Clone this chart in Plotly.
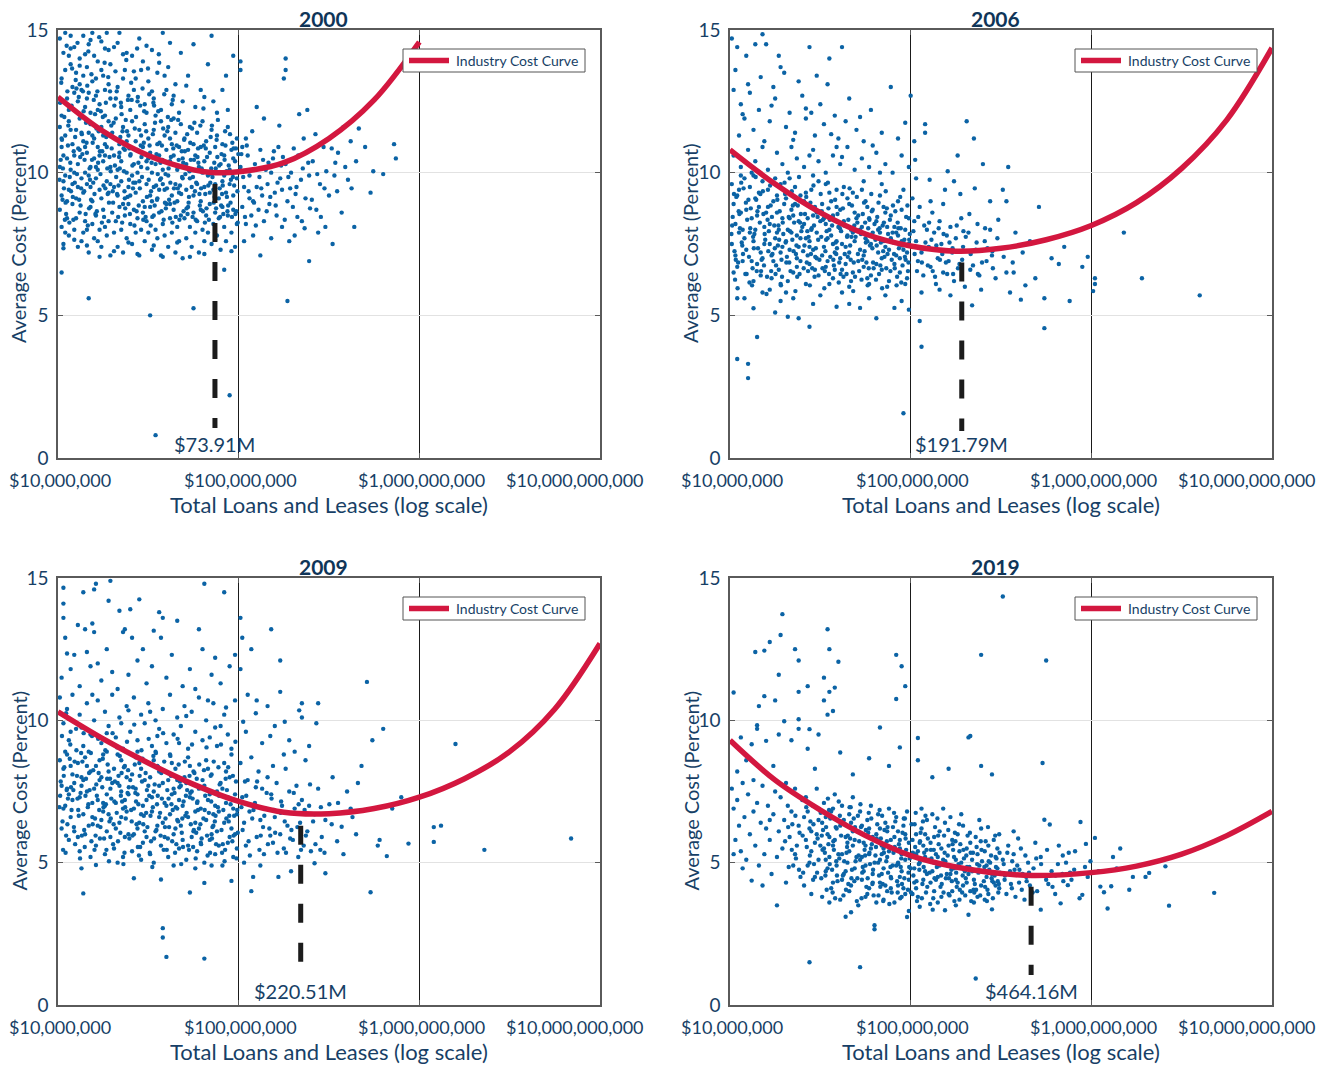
import math
import plotly.graph_objects as go

# ---------------- data ----------------
YEARS = ["2000", "2006", "2009", "2019"]
MIN_SIZE = [73.91e6, 191.79e6, 220.51e6, 464.16e6]
MIN_LABELS = ["$73.91M", "$191.79M", "$220.51M", "$464.16M"]
MIN_COST = [10.0, 7.25, 6.7, 4.55]
DASH_BOTTOM = [1.05, 0.95, 1.05, 1.05]
LEGEND_TEXT = "Industry Cost Curve"

X_TICKS = [1e7, 1e8, 1e9, 1e10]
X_TICKTEXT = ["$10,000,000", "$100,000,000", "$1,000,000,000", "$10,000,000,000"]
Y_TICKS = [0, 5, 10, 15]

# industry cost curves: log10(total loans) and average cost (%)
CURVE_2000_LX = [7.0, 7.25, 7.5, 7.75, 7.87, 8.0, 8.25, 8.5, 8.75, 9.0]
CURVE_2000_Y = [12.65, 11.45, 10.6, 10.1, 10.0, 10.03, 10.35, 11.2, 12.55, 14.58]
CURVE_2006_LX = [7.0, 7.25, 7.5, 7.75, 8.0, 8.25, 8.5, 8.75, 9.0, 9.25, 9.5, 9.75, 10.0]
CURVE_2006_Y = [10.8, 9.6, 8.6, 7.85, 7.43, 7.25, 7.35, 7.65, 8.15, 8.95, 10.15, 11.85, 14.37]
CURVE_2009_LX = [7.0, 7.25, 7.5, 7.75, 8.0, 8.25, 8.5, 8.75, 9.0, 9.25, 9.5, 9.75, 10.0]
CURVE_2009_Y = [10.3, 9.35, 8.5, 7.75, 7.15, 6.77, 6.72, 6.9, 7.3, 7.95, 8.9, 10.4, 12.7]
CURVE_2019_LX = [7.0, 7.25, 7.5, 7.75, 8.0, 8.25, 8.5, 8.67, 9.0, 9.25, 9.5, 9.75, 10.0]
CURVE_2019_Y = [9.3, 7.9, 6.85, 5.95, 5.25, 4.85, 4.62, 4.55, 4.65, 4.88, 5.3, 5.95, 6.8]

# banks: (log10 total loans and leases, average cost %)
BANKS_2000 = [
(7.01,14.7),(7.03,14.2),(7.02,13.3),(7.05,12.6),(7.04,14.9),(7.07,13.8),(7.06,12.2),(7.09,14.4),(7.08,13.0),(7.11,12.5),
(7.12,14.0),(7.10,13.5),(7.14,14.8),(7.13,12.9),(7.16,13.7),(7.15,12.3),(7.17,14.5),(7.19,13.2),(7.18,12.1),(7.20,14.1),
(7.21,12.7),(7.22,13.9),(7.24,14.6),(7.23,12.4),(7.25,13.4),(7.26,12.0),(7.27,14.9),(7.28,13.1),(7.29,12.6),(7.02,12.0),
(7.06,14.1),(7.12,13.1),(7.19,14.9),(7.24,13.6),(7.28,14.3),(7.04,13.6),(7.09,12.8),(7.16,12.6),(7.21,13.3),(7.26,12.9),
(7.14,13.4),(7.22,12.2),(7.29,13.8),(7.07,14.8),(7.17,12.8),
(7.31,14.4),(7.33,13.0),(7.35,12.3),(7.34,14.9),(7.37,13.6),(7.39,12.7),(7.41,14.1),(7.40,12.2),(7.43,13.3),(7.45,14.7),
(7.44,12.5),(7.47,13.9),(7.49,12.1),(7.50,13.2),(7.52,14.3),(7.53,12.6),(7.55,13.5),(7.57,12.2),(7.58,14.9),(7.60,12.9),
(7.61,13.7),(7.63,12.4),(7.65,13.1),(7.67,12.1),(7.68,14.2),(7.32,12.6),(7.36,13.3),(7.42,12.9),(7.48,12.4),(7.54,12.0),
(7.59,13.4),(7.64,12.7),(7.38,14.2),(7.46,13.6),(7.69,12.5),
(7.72,13.4),(7.75,14.5),(7.76,12.3),(7.79,12.9),(7.83,13.8),(7.86,12.5),(7.88,12.1),(7.91,12.9),(7.94,12.2),(7.97,14.1),
(7.85,14.8),(7.93,13.4),
(7.01,11.6),(7.02,10.9),(7.01,10.2),(7.03,9.7),(7.02,9.2),(7.04,11.3),(7.05,10.5),(7.04,9.9),(7.06,11.8),(7.07,10.1),
(7.06,9.4),(7.08,11.0),(7.09,10.6),(7.08,9.6),(7.10,11.5),(7.11,10.3),(7.10,9.1),(7.12,10.8),(7.13,9.8),(7.12,11.9),
(7.14,11.1),(7.15,10.0),(7.14,9.3),(7.16,10.7),(7.17,11.4),(7.16,9.6),(7.18,10.2),(7.19,9.0),(7.18,11.7),(7.20,10.5),
(7.21,9.8),(7.20,11.2),(7.22,10.9),(7.23,9.4),(7.22,10.1),(7.24,11.6),(7.25,10.4),(7.24,9.1),(7.26,11.0),(7.27,9.7),
(7.26,10.6),(7.28,11.8),(7.29,10.2),(7.28,9.3),(7.03,10.6),(7.07,11.5),(7.11,9.5),(7.15,10.9),(7.19,11.3),(7.23,10.6),
(7.27,10.9),(7.05,9.0),(7.13,11.4),(7.21,10.2),(7.29,9.6),(7.09,10.0),(7.17,9.9),(7.25,11.3),(7.02,11.2),(7.18,9.5),
(7.30,11.4),(7.31,10.6),(7.31,9.5),(7.32,11.9),(7.33,10.1),(7.33,9.2),(7.34,11.0),(7.35,10.4),(7.35,9.7),(7.36,11.6),
(7.37,10.8),(7.37,9.1),(7.38,10.0),(7.39,11.3),(7.39,9.5),(7.40,10.6),(7.41,11.8),(7.41,9.9),(7.42,10.3),(7.43,11.1),
(7.43,9.3),(7.44,10.8),(7.45,9.7),(7.45,11.5),(7.46,10.2),(7.47,9.0),(7.47,10.9),(7.48,11.7),(7.49,9.6),(7.49,10.4),
(7.50,11.2),(7.51,9.2),(7.51,10.7),(7.52,10.0),(7.53,11.5),(7.53,9.5),(7.54,10.3),(7.55,11.0),(7.55,9.1),(7.56,10.6),
(7.57,11.8),(7.57,9.8),(7.58,10.1),(7.59,11.3),(7.59,9.4),(7.60,10.8),(7.61,9.9),(7.61,11.6),(7.62,10.4),(7.63,9.2),
(7.63,11.0),(7.64,10.6),(7.65,9.6),(7.65,11.4),(7.66,10.1),(7.67,9.3),(7.67,10.9),(7.68,11.7),(7.69,9.8),(7.69,10.5),
(7.34,10.7),(7.40,9.2),(7.46,11.3),(7.52,9.0),(7.58,9.6),(7.64,11.9),(7.38,11.1),(7.44,10.0),(7.50,10.5),(7.56,9.4),
(7.62,11.2),(7.66,9.0),
(7.70,11.2),(7.71,10.3),(7.71,9.4),(7.72,10.8),(7.73,11.6),(7.73,9.8),(7.74,10.1),(7.75,11.0),(7.75,9.2),(7.76,10.6),
(7.77,11.4),(7.77,9.6),(7.78,10.2),(7.79,9.0),(7.79,10.9),(7.80,11.8),(7.81,9.5),(7.81,10.4),(7.82,11.1),(7.83,9.9),
(7.84,10.7),(7.84,9.3),(7.85,11.5),(7.86,10.0),(7.87,9.6),(7.87,10.9),(7.88,11.3),(7.89,9.1),(7.90,10.3),(7.91,9.7),
(7.91,11.0),(7.92,10.6),(7.93,9.3),(7.94,11.6),(7.95,10.1),(7.95,9.6),(7.96,10.8),(7.97,9.2),(7.98,10.4),(7.99,9.8),
(7.99,11.2),(7.74,9.5),(7.80,10.0),(7.86,9.4),(7.92,9.9),(7.97,10.5),
(7.01,8.7),(7.02,8.1),(7.03,7.5),(7.02,6.5),(7.05,8.4),(7.06,7.8),(7.08,8.9),(7.09,8.0),(7.11,7.4),(7.12,8.6),
(7.14,7.9),(7.15,8.3),(7.17,7.2),(7.18,8.8),(7.17,5.6),(7.20,7.7),(7.21,8.5),(7.23,8.0),(7.24,7.4),(7.25,8.7),
(7.27,7.8),(7.28,8.3),(7.29,7.1),(7.04,7.9),(7.10,8.4),(7.16,8.0),(7.22,7.6),(7.26,8.1),(7.13,7.6),(7.19,8.2),
(7.30,8.6),(7.31,7.9),(7.32,8.3),(7.33,7.4),(7.34,8.8),(7.35,8.0),(7.36,7.2),(7.37,8.5),(7.38,7.7),(7.39,8.9),
(7.40,8.2),(7.41,7.5),(7.42,8.7),(7.43,7.9),(7.44,8.4),(7.45,7.1),(7.46,8.0),(7.47,8.6),(7.48,7.6),(7.49,8.3),
(7.50,7.9),(7.51,8.8),(7.52,7.3),(7.53,8.5),(7.54,8.0),(7.55,7.7),(7.56,8.6),(7.57,7.1),(7.58,8.2),(7.59,7.8),
(7.60,8.9),(7.61,7.4),(7.62,8.4),(7.63,7.9),(7.64,8.7),(7.65,7.2),(7.66,8.1),(7.67,7.6),(7.68,8.5),(7.69,7.0),
(7.51,5.0),(7.54,0.8),(7.36,8.9),(7.48,8.8),(7.62,8.9),
(7.70,8.4),(7.71,7.7),(7.72,8.8),(7.73,8.1),(7.74,7.4),(7.75,8.6),(7.76,7.9),(7.77,8.3),(7.78,7.2),(7.79,8.7),
(7.80,8.0),(7.81,7.6),(7.82,8.5),(7.83,7.9),(7.84,8.9),(7.85,7.5),(7.86,8.2),(7.87,8.6),(7.88,7.8),(7.89,8.4),
(7.90,7.3),(7.91,8.8),(7.92,8.1),(7.93,7.6),(7.94,8.5),(7.96,7.9),(7.97,8.7),(7.98,7.4),(7.99,8.2),(7.75,5.25),
(7.92,6.6),(7.95,2.2),
(8.01,13.9),(8.01,13.6),(8.02,10.9),(8.01,10.2),(8.03,9.5),(8.02,8.8),(8.04,8.2),(8.03,7.6),(8.05,10.6),(8.06,9.9),
(8.06,9.1),(8.07,8.5),(8.08,7.8),(8.09,10.3),(8.10,12.3),(8.10,9.5),(8.11,8.7),(8.12,7.1),(8.12,10.8),(8.13,9.2),
(8.14,11.9),(8.14,8.3),(8.15,10.1),(8.16,9.6),(8.17,8.9),(8.18,7.7),(8.19,10.5),(8.20,9.3),(8.21,8.5),(8.22,10.9),
(8.23,9.8),(8.24,8.1),(8.25,13.3),(8.26,13.6),(8.26,14.0),(8.26,10.3),(8.27,9.0),(8.27,5.5),(8.28,7.6),(8.29,10.0),
(8.30,8.8),(8.32,9.5),(8.33,10.6),(8.35,8.3),(8.36,11.2),(8.37,9.1),(8.38,12.2),(8.39,6.9),(8.39,9.9),(8.04,11.2),
(8.08,9.0),(8.18,10.0),(8.24,9.4),(8.31,7.8),
(8.41,10.4),(8.43,8.7),(8.45,9.6),(8.47,10.9),(8.48,8.1),(8.50,9.2),(8.52,7.5),(8.53,9.9),(8.55,10.7),(8.58,11.6),
(8.59,10.2),(8.62,11.1),(8.64,8.1),(8.65,10.4),(8.70,10.9),(8.73,9.3),(8.80,9.95),(8.86,11.0),(8.87,10.5),(8.44,7.9),
(8.57,8.6),
(7.015,10.45),(7.025,9.05),(7.035,11.95),(7.045,8.55),(7.055,10.95),(7.065,9.85),(7.075,12.35),(7.085,8.35),(7.095,11.25),(7.105,9.95),
(7.115,12.65),(7.125,8.85),(7.135,10.65),(7.145,9.35),(7.155,11.75),(7.165,8.15),(7.175,10.15),(7.185,13.45),(7.195,9.65),(7.205,12.05),
(7.215,8.65),(7.225,11.45),(7.235,9.95),(7.245,10.75),(7.255,8.45),(7.265,12.45),(7.275,9.25),(7.285,10.55),(7.295,11.65),(7.305,8.95),
(7.315,10.25),(7.325,12.85),(7.335,9.55),(7.345,11.25),(7.355,8.25),(7.365,10.05),(7.375,11.85),(7.385,9.15),(7.395,10.85),(7.405,13.15),
(7.415,9.45),(7.425,11.55),(7.435,8.65),(7.445,10.35),(7.455,12.35),(7.465,9.85),(7.475,11.05),(7.485,8.45),(7.495,10.15),(7.505,12.75),
(7.515,9.35),(7.525,11.35),(7.535,8.85),(7.545,10.65),(7.555,12.15),(7.565,9.75),(7.575,10.95),(7.585,8.35),(7.595,9.95),(7.605,11.45),
(7.615,9.05),(7.625,10.55),(7.635,12.55),(7.645,8.95),(7.655,10.25),(7.665,11.85),(7.675,9.55),(7.685,10.75),(7.695,8.65),(7.705,9.95),
(7.715,11.35),(7.725,9.15),(7.735,10.45),(7.745,8.45),(7.755,11.75),(7.765,9.65),(7.775,10.85),(7.785,8.85),(7.795,10.15),(7.805,12.25),
(7.815,9.25),(7.825,10.55),(7.835,8.35),(7.845,11.25),(7.855,9.85),(7.865,10.35),(7.875,8.75),(7.885,11.85),(7.895,9.45),(7.905,10.65),
(7.915,8.55),(7.925,11.45),(7.935,9.15),(7.945,10.25),(7.955,8.95),(7.965,11.05),(7.975,9.55),(7.985,10.85),(7.995,8.25),
(7.008,9.75),(7.022,11.15),(7.038,8.35),(7.052,12.85),(7.068,10.35),(7.082,9.15),(7.098,13.25),(7.112,10.85),(7.128,9.45),(7.142,12.15),
(7.158,11.05),(7.172,8.75),(7.188,10.45),(7.202,9.25),(7.218,12.85),(7.232,10.75),(7.248,11.95),(7.262,9.45),(7.278,13.35),(7.292,10.05),
(7.308,11.75),(7.322,9.85),(7.338,10.55),(7.352,12.05),(7.368,9.35),(7.382,11.45),(7.398,8.55),(7.412,10.25),(7.428,9.65),(7.442,12.65),
(7.458,10.95),(7.472,8.35),(7.488,11.45),(7.502,9.75),(7.518,10.35),(7.532,12.35),(7.548,9.05),(7.562,11.05),(7.578,10.45),(7.592,8.95),
(7.608,11.95),(7.622,9.65),(7.638,10.85),(7.652,8.45),(7.668,10.45),(7.682,9.25),(7.698,11.15),(7.712,8.75),(7.728,10.05),(7.742,11.55),
(7.758,9.35),(7.772,10.55),(7.788,11.65),(7.802,8.65),(7.818,10.85),(7.832,9.55),(7.848,10.15),(7.862,8.95),(7.878,11.15),(7.892,10.25),
(7.908,9.25),(7.922,10.45),(7.938,8.65),(7.952,11.35),(7.968,9.85),(7.982,8.55),(7.998,10.65),
(7.03,7.35),(7.09,7.65),(7.16,7.45),(7.23,7.05),(7.31,7.25),(7.39,7.55),(7.44,7.15),(7.53,7.45),(7.58,7.05),(7.66,7.55),
(7.73,7.05),(7.81,7.15),(7.87,7.65),(7.96,7.25),(7.12,13.75),(7.18,14.65),(7.26,14.35),(7.33,14.55),(7.42,13.55),(7.49,14.45),
(7.56,13.85),(7.62,14.55),(7.07,14.35),(7.15,14.15),(7.36,14.15),(7.52,12.85),(7.71,13.05),(7.81,12.65),
(8.015,10.65),(8.035,8.45),(8.055,9.35),(8.075,11.45),(8.095,8.15),(8.115,9.85),(8.135,10.45),(8.155,8.65),(8.175,9.15),(8.195,10.75),
(8.215,9.65),(8.235,10.25),(8.255,8.35),(8.285,9.45),(8.305,10.85),(8.325,8.45),(8.345,9.75),(8.365,8.05),(8.385,10.35),(8.405,9.05),
(8.425,11.35),(8.455,8.45),(8.485,10.05),(8.515,10.85),(8.545,9.35),(8.605,9.75),(8.665,11.55),(8.745,10.05),(8.335,12.05),(8.225,11.65),
(7.012,12.45),(7.027,10.15),(7.042,8.95),(7.057,11.65),(7.072,9.35),(7.087,10.75),(7.102,12.95),(7.117,9.05),(7.132,11.35),(7.147,10.45),
(7.162,13.05),(7.177,9.75),(7.192,11.05),(7.207,8.55),(7.222,10.35),(7.237,12.15),(7.252,9.55),(7.267,11.25),(7.282,8.95),(7.297,10.85),
(7.312,12.35),(7.327,9.25),(7.342,10.15),(7.357,11.45),(7.372,8.75),(7.387,12.55),(7.402,10.65),(7.417,9.65),(7.432,11.95),(7.447,8.85),
(7.462,10.55),(7.477,12.15),(7.492,9.15),(7.507,10.95),(7.522,8.45),(7.537,11.75),(7.552,9.95),(7.567,10.35),(7.582,11.55),(7.597,8.75),
(7.612,10.15),(7.627,11.85),(7.642,9.45),(7.657,10.95),(7.672,8.35),(7.687,9.85),(7.702,10.75),(7.717,8.55),(7.732,11.05),(7.747,9.85),
(7.762,8.35),(7.777,10.35),(7.792,9.45),(7.807,10.95),(7.822,8.75),(7.837,9.95),(7.852,11.65),(7.867,9.15),(7.882,10.55),(7.897,8.45),
(7.912,9.55),(7.927,10.95),(7.942,8.85),(7.957,9.75),(7.972,10.85),(7.987,8.65),
(7.018,13.15),(7.048,14.45),(7.078,13.65),(7.108,14.55),(7.138,12.85),(7.168,14.25),(7.198,12.55),(7.228,14.75),(7.258,13.85),(7.288,12.85),
(7.318,13.55),(7.348,12.45),(7.378,13.95),(7.408,12.55),(7.438,14.35),(7.468,12.95),(7.498,13.65),(7.528,12.45),(7.558,14.15),(7.588,12.75),
(7.033,9.45),(7.063,8.25),(7.093,9.65),(7.123,10.55),(7.153,8.55),(7.183,9.05),(7.213,11.55),(7.243,8.25),(7.273,10.15),(7.303,9.35),
(7.333,8.45),(7.363,10.85),(7.393,9.75),(7.423,8.15),(7.453,9.45),(7.483,10.65),(7.513,8.15),(7.543,9.55),(7.573,8.65),(7.603,9.45),
(7.633,8.25),(7.663,9.45),(7.693,10.35),(7.723,8.95),(7.753,10.45),(7.783,9.25),(7.813,8.25),(7.843,9.65),(7.873,10.15),(7.903,8.85),
(7.933,10.05),(7.963,8.45),(7.993,9.35),
(8.025,9.85),(8.045,10.95),(8.085,8.95),(8.125,9.45),(8.165,10.35),(8.205,8.85),(8.245,10.55),(8.275,9.85),(8.315,9.25),(8.355,10.15),
(8.395,8.75),(8.435,9.95),(8.475,9.45),(8.535,10.35),(8.625,9.45),
]

BANKS_2006 = [
(7.01,14.7),(7.04,14.4),(7.09,14.1),(7.14,14.5),(7.18,14.85),(7.20,14.5),(7.27,14.1),(7.28,13.7),(7.30,13.5),(7.44,14.4),
(7.55,14.0),(7.62,14.4),(7.03,13.6),(7.54,13.1),(7.89,13.0),(8.00,12.7),(7.02,12.9),(7.06,12.4),(7.11,12.8),(7.08,11.9),
(7.13,11.5),(7.16,12.2),(7.22,11.8),(7.25,12.6),(7.33,12.1),(7.36,11.4),(7.40,12.7),(7.42,11.9),(7.47,11.3),(7.50,12.4),
(7.52,11.7),(7.58,12.0),(7.60,11.2),(7.66,12.6),(7.70,11.5),(7.74,11.1),(7.78,12.2),(7.05,11.3),(7.19,11.1),(7.31,11.6),
(7.45,12.1),(7.64,11.8),(7.84,11.4),(7.93,11.2),(7.38,13.2),(7.10,13.1),(7.24,13.0),(7.48,13.4),
(7.02,10.6),(7.06,10.2),(7.10,10.8),(7.14,10.4),(7.18,10.9),(7.21,10.1),(7.26,10.7),(7.29,10.3),(7.34,10.9),(7.37,10.5),
(7.41,10.2),(7.46,10.8),(7.49,10.4),(7.53,10.0),(7.57,10.6),(7.61,10.3),(7.65,10.9),(7.69,10.1),(7.73,10.5),(7.77,10.2),
(7.81,10.7),(7.86,10.3),(7.90,10.0),(7.95,10.6),(7.99,10.2),(7.12,10.0),(7.32,10.0),(7.44,10.6),(7.59,10.9),(7.83,10.0),
(7.01,9.6),(7.02,8.9),(7.03,8.2),(7.01,7.5),(7.04,9.2),(7.05,7.9),(7.06,8.6),(7.07,6.9),(7.08,9.8),(7.09,7.3),
(7.02,6.5),(7.05,9.4),(7.07,8.0),(7.09,8.7),(7.03,7.1),(7.06,9.9),(7.08,7.7),(7.04,6.7),
(7.11,9.5),(7.12,8.4),(7.13,7.6),(7.14,9.1),(7.15,6.8),(7.16,8.8),(7.17,7.2),(7.18,9.7),(7.19,8.1),(7.11,7.9),
(7.13,9.9),(7.15,8.5),(7.17,6.4),(7.19,7.5),(7.12,6.9),(7.14,8.0),(7.16,9.3),(7.18,7.0),(7.20,8.6),(7.13,6.2),
(7.21,9.4),(7.22,8.2),(7.23,7.1),(7.24,9.0),(7.25,7.7),(7.26,8.6),(7.27,6.6),(7.28,9.6),(7.29,7.4),(7.21,8.8),
(7.23,6.3),(7.25,9.8),(7.27,8.0),(7.29,8.4),(7.22,7.5),(7.24,6.9),(7.26,9.2),(7.28,7.2),(7.30,8.9),(7.22,5.9),
(7.26,7.9),(7.28,6.1),
(7.31,9.1),(7.32,8.0),(7.33,7.3),(7.34,8.7),(7.35,6.5),(7.36,9.5),(7.37,7.8),(7.38,8.3),(7.39,6.9),(7.31,7.6),
(7.33,9.8),(7.35,8.5),(7.37,7.0),(7.39,9.2),(7.32,6.2),(7.34,7.9),(7.36,8.9),(7.38,7.4),(7.40,8.1),(7.33,8.4),
(7.37,6.7),(7.39,7.7),(7.31,5.8),
(7.41,9.0),(7.42,7.7),(7.43,8.4),(7.44,6.8),(7.45,9.4),(7.46,7.3),(7.47,8.8),(7.48,7.9),(7.49,6.4),(7.41,8.2),
(7.43,7.1),(7.45,8.0),(7.47,6.6),(7.49,9.7),(7.42,9.3),(7.44,7.6),(7.46,8.5),(7.48,7.0),(7.50,8.3),(7.42,6.1),
(7.46,9.9),(7.48,8.6),(7.44,7.4),
(7.51,8.9),(7.52,7.4),(7.53,8.2),(7.54,6.9),(7.55,9.3),(7.56,7.8),(7.57,8.5),(7.58,6.6),(7.59,7.6),(7.51,7.1),
(7.53,9.6),(7.55,8.0),(7.57,6.3),(7.59,8.8),(7.52,8.4),(7.54,7.7),(7.56,9.0),(7.58,7.2),(7.60,8.1),(7.53,6.7),
(7.57,7.5),(7.55,6.1),(7.59,9.4),
(7.61,8.7),(7.62,7.5),(7.63,8.3),(7.64,6.8),(7.65,9.1),(7.66,7.2),(7.67,8.0),(7.68,6.5),(7.69,8.6),(7.61,7.0),
(7.63,9.5),(7.65,7.8),(7.67,6.2),(7.69,7.6),(7.62,8.2),(7.64,7.4),(7.66,8.9),(7.68,7.9),(7.70,8.4),(7.62,6.6),
(7.66,6.0),(7.68,9.3),
(7.71,8.5),(7.72,7.3),(7.73,8.1),(7.74,6.7),(7.75,9.0),(7.76,7.6),(7.77,8.4),(7.78,6.4),(7.79,7.9),(7.71,6.9),
(7.73,9.4),(7.75,7.7),(7.77,6.1),(7.79,8.7),(7.72,8.0),(7.74,7.1),(7.76,8.8),(7.78,7.5),(7.80,8.2),(7.76,6.3),
(7.74,9.7),
(7.81,8.3),(7.82,7.2),(7.83,7.9),(7.84,6.6),(7.85,8.8),(7.86,7.4),(7.87,8.1),(7.88,6.2),(7.89,7.7),(7.81,6.8),
(7.83,9.2),(7.85,7.6),(7.87,6.0),(7.89,8.5),(7.82,8.0),(7.84,7.0),(7.86,8.6),(7.88,7.3),(7.90,7.9),(7.84,9.6),
(7.91,8.1),(7.92,7.1),(7.93,7.8),(7.94,6.5),(7.95,8.7),(7.96,7.3),(7.97,8.0),(7.98,6.3),(7.99,7.5),(7.91,6.8),
(7.93,9.0),(7.95,7.6),(7.97,6.1),(7.99,8.4),(7.92,7.9),(7.94,7.0),(7.96,9.4),(7.98,7.2),
(7.04,5.6),(7.08,5.6),(7.13,5.25),(7.25,5.1),(7.32,4.95),(7.38,4.9),(7.44,4.6),(7.59,5.3),(7.66,5.4),(7.72,5.26),
(7.81,4.9),(7.91,5.26),(7.99,5.2),(7.18,5.8),(7.35,5.6),(7.50,5.7),(7.62,5.8),(7.77,5.6),(7.86,5.7),(7.95,5.5),
(7.28,5.5),(7.46,5.4),
(7.04,3.47),(7.10,3.3),(7.10,2.8),(7.15,4.24),(7.96,1.57),(8.05,4.8),(8.06,3.9),
(8.01,9.1),(8.02,8.3),(8.03,7.6),(8.04,6.9),(8.05,8.8),(8.06,7.2),(8.07,6.4),(8.08,11.7),(8.08,11.4),(8.02,11.1),
(8.09,8.0),(8.10,7.4),(8.11,6.7),(8.12,8.6),(8.13,7.9),(8.14,6.1),(8.15,7.0),(8.16,8.3),(8.17,7.5),(8.18,6.5),
(8.19,9.4),(8.20,7.8),(8.21,6.9),(8.22,8.1),(8.23,7.2),(8.24,6.2),(8.25,7.7),(8.26,10.6),(8.27,6.8),(8.28,8.4),
(8.29,7.4),(8.30,6.0),(8.31,11.8),(8.32,7.9),(8.33,6.6),(8.34,5.35),(8.35,11.2),(8.36,7.3),(8.37,8.2),(8.38,6.4),
(8.40,10.3),(8.41,7.6),(8.42,6.9),(8.44,8.0),(8.45,7.1),(8.47,6.3),(8.48,7.7),(8.03,9.8),(8.11,9.0),(8.18,8.9),
(8.24,9.7),(8.06,5.8),(8.16,5.9),(8.22,5.7),(8.39,5.9),(8.44,9.0),
(8.51,9.4),(8.53,9.0),(8.54,10.2),(8.53,6.5),(8.57,6.5),(8.55,5.8),(8.61,5.55),(8.62,7.2),(8.66,7.6),(8.71,8.8),
(8.74,5.6),(8.74,4.55),(8.78,7.0),(8.82,6.8),(8.88,5.5),(8.95,6.7),(8.98,7.05),(9.02,6.3),(9.02,6.1),(9.01,5.85),
(9.18,7.9),(9.28,6.3),(9.60,5.7),(8.58,7.9),(8.69,6.3),(8.85,7.4),
(7.015,8.45),(7.025,7.25),(7.035,9.15),(7.045,6.85),(7.055,8.05),(7.065,7.55),(7.075,9.45),(7.085,6.45),(7.095,8.35),(7.105,7.05),
(7.115,8.75),(7.125,6.65),(7.135,7.85),(7.145,9.05),(7.155,7.35),(7.165,8.25),(7.175,6.95),(7.185,8.55),(7.195,7.65),(7.205,6.35),
(7.215,7.95),(7.225,8.85),(7.235,7.15),(7.245,8.15),(7.255,6.75),(7.265,7.45),(7.275,8.65),(7.285,6.95),(7.295,7.85),(7.305,9.25),
(7.315,7.05),(7.325,8.45),(7.335,6.55),(7.345,7.65),(7.355,8.25),(7.365,7.15),(7.375,8.85),(7.385,6.45),(7.395,7.95),(7.405,7.25),
(7.415,8.55),(7.425,6.85),(7.435,7.75),(7.445,8.95),(7.455,6.65),(7.465,8.15),(7.475,7.35),(7.485,8.45),(7.495,6.95),(7.505,7.75),
(7.515,8.35),(7.525,6.55),(7.535,7.95),(7.545,8.75),(7.555,7.05),(7.565,8.15),(7.575,6.75),(7.585,7.55),(7.595,8.55),(7.605,6.85),
(7.615,7.95),(7.625,8.75),(7.635,7.15),(7.645,6.45),(7.655,8.35),(7.665,7.45),(7.675,8.85),(7.685,6.85),(7.695,7.75),(7.705,8.25),
(7.715,6.55),(7.725,7.85),(7.735,8.55),(7.745,7.25),(7.755,6.85),(7.765,8.05),(7.775,7.45),(7.785,8.65),(7.795,6.65),(7.805,7.65),
(7.815,8.45),(7.825,6.45),(7.835,7.55),(7.845,8.15),(7.855,7.05),(7.865,6.65),(7.875,7.85),(7.885,8.35),(7.895,6.95),(7.905,7.55),
(7.915,8.65),(7.925,6.35),(7.935,7.35),(7.945,8.05),(7.955,6.75),(7.965,7.65),(7.975,8.45),(7.985,6.55),(7.995,7.85),
(7.008,7.85),(7.028,6.25),(7.048,8.65),(7.068,7.45),(7.088,8.95),(7.108,6.15),(7.128,7.75),(7.148,6.55),(7.168,9.25),(7.188,6.75),
(7.208,8.35),(7.228,6.55),(7.248,7.35),(7.268,8.15),(7.288,6.35),(7.308,7.55),(7.328,6.85),(7.348,8.85),(7.368,7.45),(7.388,8.25),
(7.408,6.65),(7.428,7.95),(7.448,7.15),(7.468,6.35),(7.488,7.65),(7.508,8.65),(7.528,7.25),(7.548,6.45),(7.568,8.45),(7.588,7.15),
(7.608,8.05),(7.628,6.35),(7.648,7.75),(7.668,6.95),(7.688,8.15),(7.708,7.15),(7.728,6.25),(7.748,8.25),(7.768,6.65),(7.788,7.35),
(7.808,6.25),(7.828,8.05),(7.848,7.25),(7.868,8.75),(7.888,6.55),(7.908,7.15),(7.928,8.25),(7.948,6.15),(7.968,7.05),(7.988,6.85),
(8.015,7.95),(8.035,6.55),(8.055,7.35),(8.075,8.15),(8.095,6.75),(8.115,7.65),(8.135,6.35),(8.155,8.05),(8.175,7.15),(8.195,6.85),
(8.215,7.55),(8.235,6.45),(8.255,8.15),(8.285,6.95),(8.305,7.75),(8.325,8.55),(8.345,6.75),(8.365,7.55),(8.395,6.85),(8.425,7.35),
(8.455,6.65),(8.485,8.35),(8.515,7.05),(8.565,6.85),(8.635,6.05),(8.025,10.45),(8.105,9.75),(8.205,10.05),(8.275,9.25),(8.355,9.45),
(7.07,12.05),(7.23,12.35),(7.35,11.15),(7.56,11.35),(7.72,11.95),(7.17,13.35),(7.42,12.25),(7.62,10.55),(7.79,10.95),(7.97,11.75),
(7.012,8.15),(7.032,6.95),(7.052,8.55),(7.072,7.15),(7.092,6.45),(7.112,8.05),(7.132,7.35),(7.152,8.65),(7.172,6.55),(7.192,7.85),
(7.212,7.25),(7.232,8.45),(7.252,6.45),(7.272,7.65),(7.292,8.25),(7.312,6.85),(7.332,7.95),(7.352,7.25),(7.372,6.35),(7.392,8.55),
(7.412,7.45),(7.432,6.55),(7.452,8.05),(7.472,7.05),(7.492,8.65),(7.512,6.65),(7.532,7.65),(7.552,8.35),(7.572,6.95),(7.592,7.35),
(7.612,6.45),(7.632,8.15),(7.652,7.05),(7.672,7.75),(7.692,6.35),(7.712,7.95),(7.732,6.95),(7.752,7.55),(7.772,8.35),(7.792,6.85),
(7.812,7.45),(7.832,6.75),(7.852,8.25),(7.872,7.15),(7.892,7.65),(7.912,6.65),(7.932,8.05),(7.952,7.45),(7.972,6.95),(7.992,7.65),
(7.022,9.25),(7.062,9.65),(7.102,9.05),(7.142,9.85),(7.182,9.35),(7.222,9.55),(7.262,9.05),(7.302,9.65),(7.342,9.35),(7.382,9.85),
(7.422,9.15),(7.462,9.55),(7.502,9.25),(7.542,9.65),(7.582,9.05),(7.622,9.25),(7.662,9.45),(7.702,9.15),(7.742,8.95),(7.782,9.25),
(7.822,8.95),(7.862,9.35),(7.902,8.85),(7.942,9.15),(7.982,8.85),
(7.042,5.95),(7.122,6.05),(7.202,5.75),(7.282,6.05),(7.362,5.85),(7.442,6.05),(7.522,5.95),(7.602,6.15),(7.682,5.85),(7.762,6.05),
(7.842,5.95),(7.922,6.05),
(8.022,7.15),(8.042,8.45),(8.062,6.85),(8.082,7.55),(8.102,8.25),(8.122,6.55),(8.142,7.45),(8.162,6.95),(8.182,7.85),(8.202,6.45),
(8.232,7.35),(8.262,6.65),(8.292,7.95),(8.332,7.15),(8.372,6.45),(8.412,8.05),(8.452,7.25),
]

BANKS_2009 = [
(7.03,14.66),(7.03,14.1),(7.03,13.6),(7.04,12.9),(7.05,12.35),(7.14,14.5),(7.21,14.8),(7.20,14.6),(7.29,14.9),(7.28,14.2),
(7.34,13.85),(7.40,13.9),(7.45,14.25),(7.56,13.8),(7.58,13.6),(7.66,13.5),(7.81,14.8),(7.92,14.5),(7.78,13.2),(7.11,13.35),
(7.15,13.2),(7.19,13.4),(7.20,13.1),(7.37,13.2),(7.36,13.1),(7.41,12.9),(7.53,13.15),(7.57,12.9),(7.80,12.5),(7.27,12.5),
(7.16,12.4),(7.09,12.3),(8.01,13.6),(8.02,12.9),(8.07,12.5),(8.18,13.2),(8.23,12.1),(7.98,12.3),(8.01,11.8),
(7.02,11.5),(7.07,11.8),(7.12,11.2),(7.18,11.9),(7.24,11.4),(7.30,11.7),(7.33,11.1),(7.39,11.6),(7.44,12.1),(7.49,11.3),
(7.52,11.9),(7.60,11.5),(7.63,12.3),(7.69,11.2),(7.73,11.8),(7.76,11.1),(7.85,11.6),(7.90,11.3),(7.95,11.9),(7.47,12.5),
(7.22,12.0),(7.87,12.2),
(7.01,10.8),(7.03,9.9),(7.05,10.4),(7.06,9.3),(7.08,10.9),(7.10,9.7),(7.12,10.2),(7.14,9.1),(7.16,10.6),(7.18,9.5),
(7.20,10.0),(7.22,10.7),(7.24,9.2),(7.26,10.3),(7.28,9.8),(7.30,10.9),(7.32,9.4),(7.34,10.1),(7.36,9.0),(7.38,10.5),
(7.40,9.6),(7.42,10.8),(7.44,9.3),(7.46,10.2),(7.48,9.9),(7.50,10.6),(7.52,9.1),(7.54,10.0),(7.56,9.7),(7.58,10.4),
(7.60,9.2),(7.62,10.9),(7.64,9.5),(7.66,10.1),(7.68,9.8),(7.70,10.5),(7.72,9.0),(7.74,10.3),(7.76,9.6),(7.78,10.8),
(7.80,9.3),(7.82,10.0),(7.84,9.4),(7.86,10.6),(7.88,9.1),(7.90,9.8),(7.92,10.2),(7.94,9.5),(7.96,9.0),(7.98,10.7),
(7.07,9.6),(7.19,10.9),(7.35,9.9),(7.51,10.3),(7.67,9.2),(7.83,10.7),
(7.01,8.6),(7.02,7.7),(7.03,8.3),(7.04,7.0),(7.05,8.8),(7.06,7.4),(7.07,6.6),(7.08,8.1),(7.09,7.8),(7.02,6.2),
(7.04,8.9),(7.06,5.8),(7.08,7.2),(7.03,6.9),(7.07,8.4),(7.09,6.1),(7.05,7.6),
(7.11,8.5),(7.12,7.3),(7.13,8.0),(7.14,6.7),(7.15,8.7),(7.16,7.5),(7.17,6.3),(7.18,8.2),(7.19,7.1),(7.11,5.9),
(7.13,7.7),(7.15,6.0),(7.17,8.9),(7.19,6.6),(7.12,5.4),(7.14,7.9),(7.16,8.4),(7.18,5.2),(7.20,7.6),(7.13,4.8),
(7.14,3.92),
(7.21,8.4),(7.22,7.2),(7.23,7.9),(7.24,6.5),(7.25,8.8),(7.26,7.0),(7.27,6.1),(7.28,8.2),(7.29,7.6),(7.21,5.6),
(7.23,8.6),(7.25,6.8),(7.27,7.4),(7.29,5.9),(7.22,6.3),(7.24,8.0),(7.26,5.3),(7.28,6.7),(7.30,7.8),(7.21,4.92),
(7.25,7.1),(7.27,8.9),
(7.31,8.3),(7.32,7.1),(7.33,7.8),(7.34,6.4),(7.35,8.6),(7.36,6.9),(7.37,5.9),(7.38,8.0),(7.39,7.4),(7.31,5.5),
(7.33,8.8),(7.35,6.6),(7.37,7.2),(7.39,6.0),(7.32,6.2),(7.34,7.7),(7.36,5.2),(7.38,6.8),(7.40,7.9),(7.33,5.0),
(7.37,8.4),(7.35,7.5),
(7.41,8.1),(7.42,6.9),(7.43,7.6),(7.44,6.2),(7.45,8.5),(7.46,6.7),(7.47,5.7),(7.48,7.9),(7.49,7.2),(7.41,5.4),
(7.43,8.7),(7.45,6.4),(7.47,7.0),(7.49,5.9),(7.42,4.45),(7.44,7.4),(7.46,8.3),(7.48,6.1),(7.50,7.7),(7.42,6.0),
(7.46,5.1),(7.44,8.9),
(7.51,8.0),(7.52,6.8),(7.53,7.5),(7.54,6.1),(7.55,8.4),(7.56,6.6),(7.57,5.6),(7.58,7.8),(7.59,7.1),(7.51,5.3),
(7.53,8.6),(7.55,6.3),(7.57,4.41),(7.59,5.9),(7.52,7.3),(7.54,8.9),(7.56,7.7),(7.58,6.4),(7.60,7.0),(7.58,2.7),
(7.58,2.37),(7.60,1.69),(7.53,5.0),(7.56,8.2),
(7.61,7.9),(7.62,6.7),(7.63,7.4),(7.64,6.0),(7.65,8.3),(7.66,6.5),(7.67,5.5),(7.68,7.7),(7.69,7.0),(7.61,5.2),
(7.63,8.5),(7.65,6.2),(7.67,7.2),(7.69,5.8),(7.62,8.8),(7.64,7.6),(7.66,6.9),(7.68,6.3),(7.70,8.0),(7.64,4.9),
(7.66,7.9),
(7.71,7.8),(7.72,6.6),(7.73,7.3),(7.74,5.9),(7.75,8.2),(7.76,6.4),(7.77,5.4),(7.78,7.6),(7.79,6.9),(7.71,5.1),
(7.73,8.4),(7.75,6.1),(7.77,7.1),(7.79,5.7),(7.72,8.7),(7.74,7.5),(7.76,6.8),(7.78,6.2),(7.80,7.9),(7.73,3.95),
(7.76,4.8),(7.72,5.6),
(7.81,7.7),(7.82,6.5),(7.83,7.2),(7.84,5.8),(7.85,8.1),(7.86,6.3),(7.87,5.3),(7.88,7.5),(7.89,6.8),(7.81,5.0),
(7.83,8.3),(7.85,6.0),(7.87,7.0),(7.89,5.6),(7.82,8.6),(7.84,7.4),(7.86,6.7),(7.88,6.1),(7.90,7.8),(7.81,4.29),
(7.81,1.63),(7.85,4.9),
(7.91,7.6),(7.92,6.4),(7.93,7.1),(7.94,5.7),(7.95,8.0),(7.96,6.2),(7.97,5.2),(7.98,7.4),(7.99,6.7),(7.91,4.9),
(7.93,8.2),(7.95,5.9),(7.97,6.9),(7.99,5.5),(7.92,8.5),(7.94,7.3),(7.96,4.36),(7.98,6.0),(7.96,8.8),
(8.01,8.5),(8.02,7.3),(8.03,6.4),(8.04,5.6),(8.05,7.9),(8.06,6.8),(8.07,4.0),(8.08,4.5),(8.09,7.1),(8.10,5.9),
(8.11,8.2),(8.12,6.5),(8.13,7.6),(8.14,5.3),(8.15,6.9),(8.16,8.0),(8.17,6.2),(8.18,7.4),(8.19,5.7),(8.20,6.6),
(8.21,7.8),(8.22,4.5),(8.23,6.0),(8.24,7.0),(8.25,5.5),(8.26,8.3),(8.27,6.3),(8.28,7.5),(8.29,4.7),(8.30,5.8),
(8.31,6.9),(8.32,7.7),(8.33,5.2),(8.34,6.4),(8.35,7.2),(8.36,5.6),(8.37,8.6),(8.38,6.1),(8.39,7.0),(8.40,5.4),
(8.42,4.98),(8.42,6.7),(8.44,7.6),(8.46,5.9),(8.48,4.63),(8.48,6.5),(8.05,10.9),(8.10,10.7),(8.16,10.5),(8.23,11.0),
(8.35,10.6),(8.35,10.1),(8.43,9.9),(8.44,10.6),(8.04,9.6),(8.13,9.2),(8.20,9.8),(8.28,9.3),(8.31,8.9),(8.39,9.1),
(8.07,8.7),(8.19,8.4),(8.03,5.0),(8.12,4.9),(8.25,8.8),
(8.52,8.0),(8.55,7.1),(8.57,6.26),(8.60,7.5),(8.63,6.6),(8.65,6.0),(8.68,8.4),(8.71,11.35),(8.73,3.96),(8.74,9.3),
(8.77,5.6),(8.78,5.8),(8.80,9.7),(8.82,5.23),(8.85,6.9),(8.94,5.67),(9.08,6.25),(9.12,6.3),(9.08,5.73),(9.20,9.17),
(9.36,5.45),(9.84,5.85),(8.58,5.3),(8.66,7.8),(8.62,6.9),(8.90,7.3),
(7.015,7.85),(7.025,6.45),(7.035,8.35),(7.045,5.95),(7.055,7.25),(7.065,8.65),(7.075,6.85),(7.085,7.55),(7.095,5.65),(7.105,8.05),
(7.115,6.65),(7.125,7.45),(7.135,8.55),(7.145,6.15),(7.155,7.95),(7.165,6.95),(7.175,7.55),(7.185,5.75),(7.195,8.25),(7.205,6.55),
(7.215,7.35),(7.225,8.15),(7.235,6.25),(7.245,7.65),(7.255,5.85),(7.265,7.05),(7.275,8.45),(7.285,6.45),(7.295,7.25),(7.305,5.65),
(7.315,7.85),(7.325,6.75),(7.335,8.05),(7.345,6.05),(7.355,7.15),(7.365,8.35),(7.375,6.55),(7.385,7.45),(7.395,5.85),(7.405,6.85),
(7.415,7.65),(7.425,8.45),(7.435,6.35),(7.445,7.05),(7.455,5.55),(7.465,7.85),(7.475,6.65),(7.485,8.15),(7.495,6.25),(7.505,7.35),
(7.515,5.75),(7.525,6.95),(7.535,7.75),(7.545,6.15),(7.555,8.35),(7.565,6.75),(7.575,7.25),(7.585,5.45),(7.595,6.55),(7.605,7.55),
(7.615,6.25),(7.625,8.05),(7.635,6.85),(7.645,7.45),(7.655,5.65),(7.665,6.45),(7.675,7.85),(7.685,6.05),(7.695,7.15),(7.705,6.65),
(7.715,7.55),(7.725,5.45),(7.735,6.35),(7.745,7.25),(7.755,8.15),(7.765,6.05),(7.775,6.85),(7.785,7.65),(7.795,5.85),(7.805,6.55),
(7.815,7.35),(7.825,5.95),(7.835,6.75),(7.845,8.05),(7.855,6.25),(7.865,7.45),(7.875,5.65),(7.885,6.95),(7.895,7.75),(7.905,6.15),
(7.915,6.85),(7.925,5.45),(7.935,7.55),(7.945,6.45),(7.955,7.05),(7.965,5.75),(7.975,6.65),(7.985,7.85),(7.995,6.05),
(7.008,6.95),(7.028,5.45),(7.048,7.55),(7.068,9.15),(7.088,6.25),(7.108,7.25),(7.128,8.85),(7.148,5.55),(7.168,7.05),(7.188,9.45),
(7.208,5.95),(7.228,6.85),(7.248,8.65),(7.268,5.45),(7.288,7.95),(7.308,6.35),(7.328,9.05),(7.348,7.35),(7.368,5.35),(7.388,8.25),
(7.408,6.45),(7.428,7.45),(7.448,5.25),(7.468,8.65),(7.488,6.75),(7.508,5.35),(7.528,8.75),(7.548,7.05),(7.568,5.95),(7.588,8.55),
(7.608,5.85),(7.628,7.05),(7.648,5.35),(7.668,8.45),(7.688,6.55),(7.708,7.35),(7.728,8.05),(7.748,5.55),(7.768,7.95),(7.788,6.35),
(7.808,8.25),(7.828,5.25),(7.848,7.15),(7.868,6.45),(7.888,8.35),(7.908,5.35),(7.928,7.95),(7.948,6.65),(7.968,8.05),(7.988,5.15),
(8.015,6.95),(8.035,7.85),(8.055,5.75),(8.075,6.55),(8.095,7.65),(8.115,5.45),(8.135,6.25),(8.155,7.45),(8.175,5.95),(8.195,6.85),
(8.215,5.35),(8.235,7.15),(8.255,6.45),(8.285,5.85),(8.305,7.45),(8.325,6.25),(8.345,5.45),(8.365,6.85),(8.395,7.75),(8.425,5.65),
(8.455,6.95),(8.475,5.35),(8.515,6.35),(8.545,5.75),(8.585,6.75),(8.025,9.95),(8.095,10.25),(8.175,9.45),(8.255,9.95),(8.335,10.35),
(7.045,10.25),(7.13,9.75),(7.27,9.55),(7.39,10.35),(7.55,9.45),(7.71,10.15),(7.87,9.75),(7.93,10.45),
(7.012,7.35),(7.032,8.05),(7.052,6.35),(7.072,7.65),(7.092,8.55),(7.112,6.85),(7.132,5.95),(7.152,7.35),(7.172,8.15),(7.192,6.35),
(7.212,7.75),(7.232,5.85),(7.252,6.95),(7.272,7.95),(7.292,6.55),(7.312,7.15),(7.332,5.75),(7.352,8.15),(7.372,6.95),(7.392,7.65),
(7.412,5.95),(7.432,7.15),(7.452,8.05),(7.472,6.35),(7.492,7.55),(7.512,6.65),(7.532,5.85),(7.552,7.35),(7.572,8.15),(7.592,6.25),
(7.612,7.25),(7.632,5.75),(7.652,6.95),(7.672,7.65),(7.692,5.55),(7.712,6.75),(7.732,7.45),(7.752,6.15),(7.772,7.15),(7.792,5.65),
(7.812,6.85),(7.832,7.55),(7.852,5.85),(7.872,6.65),(7.892,7.35),(7.912,5.65),(7.932,6.55),(7.952,7.25),(7.972,5.95),(7.992,6.85),
(7.022,9.45),(7.062,10.05),(7.102,8.95),(7.142,9.55),(7.182,8.85),(7.222,9.35),(7.262,8.95),(7.302,9.55),(7.342,8.75),(7.382,9.25),
(7.422,9.85),(7.462,8.95),(7.502,9.35),(7.542,8.85),(7.582,9.55),(7.622,8.75),(7.662,9.35),(7.702,8.55),(7.742,9.15),(7.782,8.45),
(7.822,9.05),(7.862,8.55),(7.902,9.15),(7.942,8.35),(7.982,9.25),
(7.042,5.35),(7.122,5.15),(7.202,5.45),(7.282,5.05),(7.362,4.95),(7.442,5.55),(7.522,4.85),(7.602,5.45),(7.682,4.95),(7.762,5.15),
(7.842,5.35),(7.922,5.05),
(8.022,6.15),(8.042,7.35),(8.062,5.25),(8.082,6.85),(8.102,7.85),(8.122,5.95),(8.142,6.65),(8.162,5.65),(8.182,7.25),(8.202,6.05),
(8.232,6.75),(8.262,5.35),(8.292,6.15),(8.332,7.05),(8.372,5.95),(8.412,6.45),(8.452,5.45),(8.502,7.05),
]

BANKS_2019 = [
(7.02,10.98),(7.29,13.73),(7.28,13.0),(7.22,12.75),(7.14,12.4),(7.19,12.45),(7.36,12.5),(7.38,12.1),(7.54,13.2),(7.55,12.5),
(7.60,12.06),(7.52,11.5),(7.55,11.0),(7.58,11.15),(7.43,11.2),(7.38,11.0),(7.27,11.6),(7.19,10.85),(7.25,10.7),(7.16,10.5),
(7.15,9.83),(7.15,9.7),(7.30,9.97),(7.38,10.04),(7.52,10.7),(7.57,10.33),(7.54,10.2),(7.92,12.3),(7.95,11.9),(7.97,11.2),
(7.92,10.75),(7.83,9.75),(7.94,9.05),(8.04,9.38),(8.39,12.3),(8.33,9.45),(8.04,8.6),(8.39,8.4),(7.06,9.4),(7.12,9.16),
(7.20,9.28),(7.27,9.5),(7.34,9.3),(7.38,9.7),(7.44,9.69),(7.49,9.5),(7.43,9.0),(7.77,8.67),(7.61,8.87),(8.51,14.35),
(8.75,12.1),(8.32,9.4),(8.73,8.5),(7.09,8.6),(7.24,8.4),(7.47,8.3),(7.68,8.1),(7.88,8.4),(8.12,8.0),(8.21,8.3),
(8.45,8.1),
(7.01,7.6),(7.02,6.9),(7.03,5.8),(7.04,7.2),(7.05,6.3),(7.06,5.4),(7.07,7.8),(7.08,6.6),(7.09,5.1),(7.10,7.4),
(7.11,6.0),(7.12,4.37),(7.13,6.8),(7.14,5.6),(7.15,7.1),(7.16,4.9),(7.17,6.4),(7.18,7.7),(7.19,5.3),(7.20,6.2),
(7.21,7.0),(7.22,5.8),(7.23,4.6),(7.24,6.7),(7.25,7.5),(7.26,3.5),(7.26,5.2),(7.27,6.1),(7.28,7.3),(7.29,5.5),
(7.30,6.5),(7.31,4.3),(7.32,7.0),(7.33,5.9),(7.34,6.8),(7.35,4.9),(7.36,7.6),(7.37,5.6),(7.38,6.3),(7.39,4.5),
(7.40,7.2),(7.02,5.3),(7.07,4.8),(7.13,7.9),(7.18,4.2),(7.22,6.5),(7.31,7.8),(7.36,5.3),(7.44,1.5),(7.04,8.2),
(7.41,6.6),(7.42,5.8),(7.43,4.9),(7.44,6.2),(7.45,5.4),(7.46,7.0),(7.47,4.5),(7.48,6.0),(7.49,5.1),(7.41,4.2),
(7.43,6.8),(7.45,3.9),(7.47,5.7),(7.49,6.5),(7.42,7.3),(7.44,5.0),(7.46,4.4),(7.48,7.6),(7.50,5.6),(7.45,6.1),
(7.51,6.4),(7.52,5.5),(7.53,4.7),(7.54,6.0),(7.55,5.2),(7.56,6.8),(7.57,4.3),(7.58,5.8),(7.59,4.9),(7.51,3.8),
(7.53,6.6),(7.55,3.6),(7.57,5.6),(7.59,6.2),(7.52,7.1),(7.54,4.8),(7.56,4.1),(7.58,7.4),(7.60,5.3),(7.55,5.9),
(7.57,6.9),(7.53,5.1),
(7.61,6.3),(7.62,5.3),(7.63,4.6),(7.64,5.9),(7.65,5.0),(7.66,6.7),(7.67,4.2),(7.68,5.6),(7.69,4.8),(7.61,3.7),
(7.63,6.5),(7.64,3.1),(7.67,3.26),(7.66,5.4),(7.68,6.1),(7.62,7.0),(7.64,4.7),(7.66,4.0),(7.68,7.3),(7.70,5.2),
(7.65,5.7),(7.67,6.4),(7.62,4.4),(7.69,5.8),
(7.71,6.1),(7.72,5.1),(7.73,4.4),(7.74,5.7),(7.75,4.9),(7.76,6.5),(7.77,4.1),(7.78,5.5),(7.79,4.6),(7.71,3.5),
(7.73,6.3),(7.72,1.33),(7.75,3.8),(7.77,5.3),(7.79,5.9),(7.72,6.8),(7.74,4.7),(7.76,3.9),(7.78,7.0),(7.80,5.0),
(7.80,2.8),(7.80,2.66),(7.75,5.6),(7.77,6.2),(7.73,5.2),(7.79,4.3),
(7.81,6.0),(7.82,5.0),(7.83,4.3),(7.84,5.6),(7.85,4.8),(7.86,6.4),(7.87,4.0),(7.88,5.4),(7.89,4.5),(7.81,3.6),
(7.83,6.2),(7.85,3.7),(7.87,5.2),(7.89,5.8),(7.82,6.7),(7.84,4.6),(7.86,4.2),(7.88,6.9),(7.90,4.9),(7.85,5.5),
(7.87,6.1),(7.83,5.1),(7.89,4.1),(7.84,5.3),
(7.91,5.9),(7.92,4.9),(7.93,4.2),(7.94,5.5),(7.95,4.7),(7.96,6.3),(7.97,3.9),(7.98,3.09),(7.99,4.4),(7.91,3.6),
(7.93,6.1),(7.95,3.8),(7.97,5.1),(7.99,5.7),(7.92,6.6),(7.94,4.5),(7.96,4.1),(7.98,6.8),(8.00,4.8),(7.95,5.3),
(7.97,6.0),(7.93,5.0),(7.99,3.3),(7.94,5.8),
(8.01,5.8),(8.02,4.8),(8.03,4.1),(8.04,5.4),(8.05,3.45),(8.06,6.2),(8.07,4.4),(8.08,5.2),(8.09,4.6),(8.01,3.9),
(8.03,6.0),(8.05,5.0),(8.07,5.6),(8.09,6.5),(8.02,4.3),(8.04,3.8),(8.06,6.9),(8.08,4.7),(8.10,5.1),(8.05,5.7),
(8.03,5.3),(8.08,6.0),
(8.11,5.7),(8.12,4.7),(8.13,4.0),(8.14,5.3),(8.15,4.5),(8.16,6.1),(8.17,3.8),(8.18,5.1),(8.19,3.33),(8.11,4.3),
(8.13,5.9),(8.15,3.6),(8.17,5.5),(8.19,6.4),(8.12,6.7),(8.14,4.4),(8.16,4.9),(8.18,6.9),(8.20,4.6),(8.15,5.2),
(8.13,5.0),
(8.21,5.6),(8.22,4.6),(8.23,4.0),(8.24,5.2),(8.25,4.4),(8.26,6.0),(8.27,3.7),(8.28,5.0),(8.29,4.2),(8.21,3.9),
(8.23,5.8),(8.25,3.5),(8.27,5.4),(8.29,6.3),(8.22,6.6),(8.24,4.8),(8.26,4.3),(8.28,6.7),(8.30,4.7),(8.25,5.1),
(8.31,5.5),(8.32,3.17),(8.33,4.0),(8.34,5.1),(8.35,4.4),(8.36,5.9),(8.37,3.8),(8.38,4.9),(8.39,4.2),(8.36,0.93),
(8.33,5.7),(8.35,3.6),(8.37,5.3),(8.39,6.2),(8.32,4.6),(8.34,4.7),(8.38,6.5),(8.31,4.3),
(8.41,5.4),(8.42,4.5),(8.43,3.9),(8.44,5.0),(8.45,3.36),(8.46,5.8),(8.47,4.2),(8.48,4.8),(8.49,4.1),(8.41,3.7),
(8.43,5.6),(8.45,4.6),(8.47,5.2),(8.49,6.0),(8.42,4.9),(8.46,4.3),(8.48,5.5),
(8.51,5.1),(8.52,4.4),(8.53,3.9),(8.54,5.6),(8.55,4.7),(8.56,4.1),(8.57,5.3),(8.58,3.8),(8.59,4.9),(8.60,4.3),
(8.61,5.5),(8.62,4.6),(8.63,3.7),(8.64,4.5),(8.65,5.0),(8.66,4.2),(8.68,4.8),(8.70,4.0),(8.72,3.35),(8.72,5.2),
(8.74,6.51),(8.75,4.4),(8.77,6.34),(8.78,4.7),(8.80,3.9),(8.83,3.57),(8.84,4.6),(8.86,5.0),(8.87,4.21),(8.89,4.4),
(8.91,5.4),(8.94,6.43),(8.95,3.87),(8.97,5.66),(8.98,4.5),(8.57,6.1),(8.69,5.7),(8.82,5.6),
(9.02,5.87),(9.05,4.16),(9.07,3.96),(9.09,3.39),(9.11,4.17),(9.12,5.2),(9.16,5.5),(9.21,4.05),(9.23,4.5),(9.30,4.5),
(9.32,4.64),(9.41,4.87),(9.43,3.49),(9.68,3.94),(9.04,4.7),(9.14,4.8),
(7.305,5.75),(7.325,4.85),(7.345,6.35),(7.365,5.15),(7.385,6.05),(7.405,4.65),(7.425,5.55),(7.445,6.45),(7.465,4.95),(7.485,5.85),
(7.505,4.45),(7.515,6.15),(7.525,5.35),(7.535,4.05),(7.545,5.65),(7.555,6.55),(7.565,4.75),(7.575,5.45),(7.585,6.25),(7.595,4.35),
(7.605,5.15),(7.615,5.95),(7.625,4.55),(7.635,6.35),(7.645,5.35),(7.655,4.25),(7.665,5.85),(7.675,4.75),(7.685,6.55),(7.695,5.05),
(7.705,4.45),(7.715,5.75),(7.725,6.25),(7.735,4.85),(7.745,5.45),(7.755,4.15),(7.765,6.05),(7.775,4.95),(7.785,5.65),(7.795,3.85),
(7.805,5.25),(7.815,6.35),(7.825,4.55),(7.835,5.85),(7.845,4.25),(7.855,6.15),(7.865,5.05),(7.875,4.65),(7.885,5.55),(7.895,3.95),
(7.905,5.35),(7.915,6.45),(7.925,4.35),(7.935,5.65),(7.945,4.85),(7.955,6.05),(7.965,4.45),(7.975,5.45),(7.985,4.05),(7.995,5.15),
(8.005,6.35),(8.015,4.55),(8.025,5.55),(8.035,3.65),(8.045,4.95),(8.055,6.05),(8.065,4.25),(8.075,5.35),(8.085,3.95),(8.095,5.85),
(8.105,4.65),(8.115,5.15),(8.125,3.75),(8.135,6.25),(8.145,4.85),(8.155,5.65),(8.165,4.15),(8.175,4.95),(8.185,5.95),(8.195,4.45),
(8.205,5.25),(8.215,3.85),(8.225,4.75),(8.235,5.45),(8.245,6.05),(8.255,4.15),(8.265,4.95),(8.275,5.65),(8.285,3.95),(8.295,5.15),
(8.305,4.45),(8.315,5.95),(8.325,4.85),(8.335,3.65),(8.345,5.35),(8.355,4.25),(8.365,5.55),(8.375,4.65),(8.385,3.85),(8.395,5.05),
(8.405,4.35),(8.415,5.75),(8.425,4.05),(8.435,4.75),(8.445,5.25),(8.455,3.75),(8.465,4.55),(8.475,5.15),(8.485,3.95),(8.495,4.65),
(7.508,5.95),(7.528,4.55),(7.548,6.85),(7.568,3.95),(7.588,5.05),(7.608,6.65),(7.628,3.85),(7.648,5.55),(7.668,6.95),(7.688,4.35),
(7.708,6.65),(7.728,3.75),(7.748,5.25),(7.768,6.75),(7.788,4.25),(7.808,5.55),(7.828,6.85),(7.848,3.65),(7.868,5.75),(7.888,4.85),
(7.908,6.75),(7.928,3.95),(7.948,5.15),(7.968,6.55),(7.988,4.65),(8.008,5.25),(8.028,6.75),(8.048,4.75),(8.068,6.45),(8.088,5.45),
(8.108,3.55),(8.128,5.45),(8.148,6.55),(8.168,4.55),(8.188,5.35),(8.208,6.15),(8.228,4.35),(8.248,5.75),(8.268,6.35),(8.288,4.55),
(8.308,5.25),(8.328,6.05),(8.348,4.05),(8.368,4.95),(8.388,5.75),(8.408,4.85),(8.428,6.25),(8.448,4.45),(8.468,5.95),(8.488,4.25),
(8.515,4.95),(8.535,5.35),(8.555,4.25),(8.575,4.75),(8.595,5.85),(8.615,4.05),(8.635,5.25),(8.655,4.65),(8.675,3.95),(8.695,5.15),
(8.725,4.55),(8.755,5.45),(8.785,4.15),(8.815,4.95),(8.845,4.35),(8.875,5.35),(8.905,4.75),(8.935,3.75),(8.965,4.85),(8.995,5.05),
(7.512,5.45),(7.532,6.25),(7.552,4.95),(7.572,5.75),(7.592,4.55),(7.612,6.45),(7.632,5.05),(7.652,5.95),(7.672,4.45),(7.692,6.25),
(7.712,5.25),(7.732,4.65),(7.752,6.15),(7.772,5.35),(7.792,4.75),(7.812,5.85),(7.832,4.15),(7.852,5.35),(7.872,6.25),(7.892,4.45),
(7.912,5.55),(7.932,4.95),(7.952,4.25),(7.972,5.85),(7.992,4.85),(8.012,5.35),(8.032,4.35),(8.052,5.75),(8.072,4.85),(8.092,4.15),
(8.112,5.45),(8.132,4.45),(8.152,5.95),(8.172,4.25),(8.192,5.05),(8.212,4.45),(8.232,5.65),(8.252,4.65),(8.272,4.05),(8.292,5.45),
(8.312,4.85),(8.332,5.35),(8.352,3.95),(8.372,4.75),(8.392,5.45),(8.412,4.15),(8.432,5.05),(8.452,4.35),(8.472,4.85),(8.492,5.35),
(7.322,6.25),(7.342,5.45),(7.362,6.65),(7.382,4.75),(7.402,5.95),(7.422,6.95),(7.442,5.25),(7.462,6.35),(7.482,4.65),(7.502,6.75),
(7.542,7.25),(7.602,7.15),(7.662,6.95),(7.722,7.05),(7.782,6.55),(7.842,6.65),(7.902,6.25),(7.962,6.55),(8.022,6.35),(8.082,6.65),
(7.582,3.75),(7.642,4.05),(7.702,3.65),(7.762,4.45),(7.822,3.85),(7.882,3.55),(7.942,3.75),(8.002,3.95),(8.062,3.75),(8.122,3.35),
(8.182,3.95),(8.242,3.65),(8.302,3.85),(8.362,4.05),(8.422,3.65),(8.482,4.35),
(8.522,4.55),(8.562,5.05),(8.602,4.75),(8.642,4.35),(8.682,4.55),(8.722,4.95),(8.762,4.25),(8.802,4.55),(8.842,5.25),(8.882,4.65),
]

BANKS = [BANKS_2000, BANKS_2006, BANKS_2009, BANKS_2019]
CURVES = [(CURVE_2000_LX, CURVE_2000_Y), (CURVE_2006_LX, CURVE_2006_Y),
          (CURVE_2009_LX, CURVE_2009_Y), (CURVE_2019_LX, CURVE_2019_Y)]

# ---------------- layout geometry (page pixels) ----------------
FW, FH = 1328, 1068
PANEL_X = [(58, 600), (730, 1272), (58, 600), (730, 1272)]
PANEL_Y = [(30, 458), (30, 458), (578, 1005), (578, 1005)]

def fx(p):
    return p / FW

def fy(p):
    return 1 - p / FH

FONT = "Lato, 'Noto Sans', sans-serif"
NAVY = "#173f66"
TITLE_NAVY = "#0f3558"
DOT = "#0b63a5"
RED = "#d3173f"
AXC = "#5a5a5a"

fig = go.Figure()
annotations = []
shapes = []
layout_axes = {}

for i in range(4):
    s = "" if i == 0 else str(i + 1)
    xa, ya = "x" + s, "y" + s
    pts = BANKS[i]
    fig.add_trace(go.Scatter(
        x=[10 ** p[0] for p in pts], y=[p[1] for p in pts],
        mode="markers", marker=dict(size=4.4, color=DOT, line=dict(width=0)),
        xaxis=xa, yaxis=ya, showlegend=False, hoverinfo="skip"))
    fig.add_trace(go.Scatter(
        x=[MIN_SIZE[i], MIN_SIZE[i]], y=[MIN_COST[i] - 0.4, DASH_BOTTOM[i]],
        mode="lines", line=dict(color="#1c1c1c", width=5, dash="19px,20px"),
        xaxis=xa, yaxis=ya, showlegend=False, hoverinfo="skip"))
    clx, cy = CURVES[i]
    fig.add_trace(go.Scatter(
        x=[10 ** v for v in clx], y=cy, mode="lines", name=LEGEND_TEXT,
        line=dict(color=RED, width=5.5, shape="spline", smoothing=1.0),
        xaxis=xa, yaxis=ya, showlegend=False, hoverinfo="skip"))

    x0, x1 = PANEL_X[i]
    y0, y1 = PANEL_Y[i]
    layout_axes["xaxis" + s] = dict(
        domain=[fx(x0), fx(x1)], anchor=ya, type="log", range=[7, 10],
        tickvals=X_TICKS, showticklabels=False, ticks="inside", ticklen=5,
        tickcolor=AXC, showline=True, linecolor=AXC, linewidth=1.5, mirror="ticks",
        showgrid=True, gridcolor="#1a1a1a", gridwidth=1, zeroline=False,
        automargin=False)
    layout_axes["yaxis" + s] = dict(
        domain=[fy(y1), fy(y0)], anchor=xa, range=[0, 15],
        tickvals=Y_TICKS, ticks="inside", ticklen=5, tickcolor=AXC,
        showline=True, linecolor=AXC, linewidth=1.5, mirror="ticks",
        showgrid=True, gridcolor="#e2e2e2", gridwidth=1, zeroline=False,
        tickfont=dict(family=FONT, size=19, color=NAVY), automargin=False,
        ticklabelstandoff=4)

    # x tick labels (the last one is pulled inside the figure, as in the original)
    for k, (tv, tt) in enumerate(zip(X_TICKS, X_TICKTEXT)):
        annotations.append(dict(
            text=tt, x=math.log10(tv), y=0, xref=xa, yref=ya + " domain",
            yshift=-22, xshift=(-25 if k == len(X_TICKS) - 1 else 2),
            showarrow=False, xanchor="center", yanchor="middle",
            font=dict(family=FONT, size=18, color=NAVY)))

    # legend box drawn inside the panel
    shapes.append(dict(type="rect", xref="paper", yref="paper",
                       x0=fx(x1 - 197), x1=fx(x1 - 15), y0=fy(y0 + 42), y1=fy(y0 + 19),
                       line=dict(color="#555555", width=1), fillcolor="white", layer="above"))
    shapes.append(dict(type="line", xref="paper", yref="paper",
                       x0=fx(x1 - 191), x1=fx(x1 - 151), y0=fy(y0 + 30.5), y1=fy(y0 + 30.5),
                       line=dict(color=RED, width=5.5), layer="above"))
    annotations.append(dict(
        text=LEGEND_TEXT, x=fx(x1 - 146), y=fy(y0 + 30.5), xref="paper", yref="paper",
        showarrow=False, xanchor="left", yanchor="middle",
        font=dict(family=FONT, size=14, color=NAVY)))

    # panel title
    annotations.append(dict(
        text="<b>" + YEARS[i] + "</b>", x=fx((x0 + x1) / 2 - 6), y=fy(y0 - 12),
        xref="paper", yref="paper", showarrow=False, xanchor="center", yanchor="middle",
        font=dict(family=FONT, size=21, color=TITLE_NAVY)))
    # minimum efficient scale label
    annotations.append(dict(
        text=MIN_LABELS[i], x=math.log10(MIN_SIZE[i]), y=0.5, xref=xa, yref=ya,
        showarrow=False, xanchor="center", yanchor="middle",
        font=dict(family=FONT, size=20, color=NAVY)))
    # axis titles
    annotations.append(dict(
        text="Total Loans and Leases (log scale)", x=fx((x0 + x1) / 2), y=fy(y1 + 46),
        xref="paper", yref="paper", showarrow=False, xanchor="center", yanchor="middle",
        font=dict(family=FONT, size=22, color=NAVY)))
    annotations.append(dict(
        text="Average Cost (Percent)", x=fx(x0 - 40), y=fy((y0 + y1) / 2),
        xref="paper", yref="paper", showarrow=False, xanchor="center", yanchor="middle",
        textangle=-90, font=dict(family=FONT, size=20, color=NAVY)))

fig.update_layout(
    width=FW, height=FH, margin=dict(l=0, r=0, t=0, b=0),
    paper_bgcolor="white", plot_bgcolor="white",
    font=dict(family=FONT, color=NAVY), showlegend=False,
    annotations=annotations, shapes=shapes, hovermode=False,
    **layout_axes)

fig.write_html("out.html", config={"displayModeBar": False},
               post_script="document.body.style.margin='0';")
